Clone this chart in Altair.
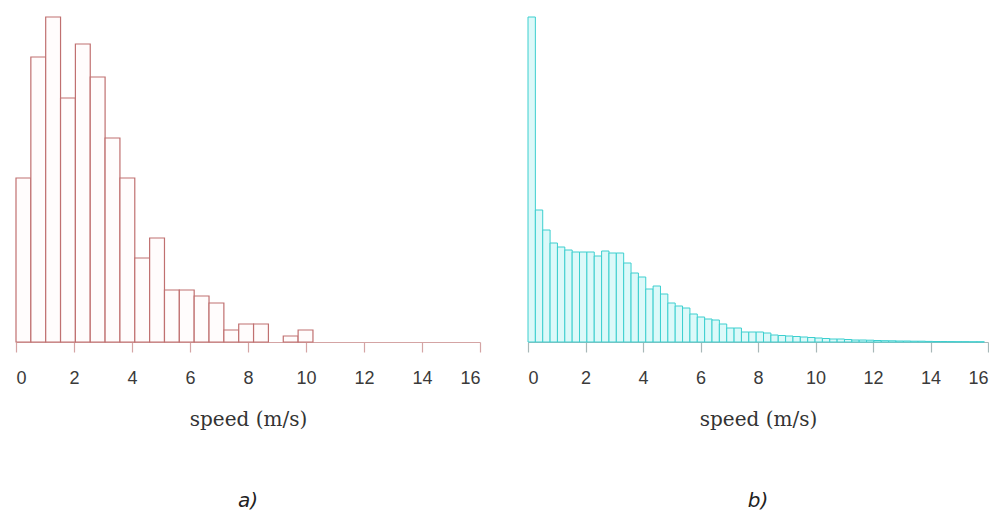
import altair as alt
import pandas as pd

# ---- data ----
tick_values = [0, 2, 4, 6, 8, 10, 12, 14, 16]

left_bin_width = 0.512
left_counts = [164, 285, 325, 244, 298, 265, 204, 164, 84, 104,
               52, 52, 46, 39, 12, 18, 18, 0, 6, 12]

right_bin_width = 0.256
right_counts = [325, 132, 112, 99, 95, 92, 90, 90, 90, 86,
                91, 89, 89, 79, 69, 65, 53, 56, 48, 39,
                36, 34, 28, 25, 23, 22, 18, 14, 14, 10,
                10, 10, 9, 7, 6.5, 6, 5.5, 5, 4.5, 4,
                3.5, 3, 3, 2.5, 2, 2, 1.8, 1.5, 1.3, 1.2,
                1.0, 1.0, 0.8, 0.8, 0.6, 0.5, 0.5, 0.4, 0.3, 0.3,
                0.2, 0.2]

captions = ["a)", "b)"]
axis_title = "speed (m/s)"


def make_df(counts, w):
    rows = []
    for i, c in enumerate(counts):
        if c > 0:
            rows.append({"start": i * w, "end": min((i + 1) * w, 16.0),
                         "count": c})
    return pd.DataFrame(rows)


def panel(df, fill, stroke, sw, axis_color, caption, width):
    return alt.Chart(df).mark_rect(
        fill=fill, stroke=stroke, strokeWidth=sw
    ).encode(
        x=alt.X("start:Q",
                scale=alt.Scale(domain=[0, 16], nice=False, zero=False),
                axis=alt.Axis(values=tick_values, title=axis_title,
                              domainColor=axis_color, tickColor=axis_color,
                              domainWidth=1.2, tickWidth=1.2, tickSize=10,
                              labelPadding=17, titlePadding=22,
                              format="d")),
        x2="end:Q",
        y=alt.Y("count:Q", scale=alt.Scale(domain=[0, 325], nice=False),
                axis=None),
        y2=alt.datum(0),
    ).properties(
        width=width, height=325,
        title=alt.TitleParams(caption, orient="bottom", font="DejaVu Sans",
                              fontStyle="italic", fontWeight="normal",
                              fontSize=20, color="#222222", offset=62),
    )


left = panel(make_df(left_counts, left_bin_width), "#fffcfc", "#c07070",
             1.2, "#d4a4a4", captions[0], 464)
right = panel(make_df(right_counts, right_bin_width), "#dcf9f9", "#3ccfcf",
              1.0, "#a8b8b8", captions[1], 460)

chart = alt.hconcat(left, right, spacing=46).properties(
    padding={"left": 7, "top": 8, "right": 0, "bottom": 0}
).configure_view(stroke=None).configure_axis(
    grid=False,
    labelFont="Liberation Sans", labelFontSize=18, labelColor="#3a3a3a",
    titleFont="DejaVu Serif", titleFontSize=20, titleFontWeight="normal",
    titleColor="#333333",
)

chart.save("out.html", embed_options={"renderer": "svg", "actions": False})
